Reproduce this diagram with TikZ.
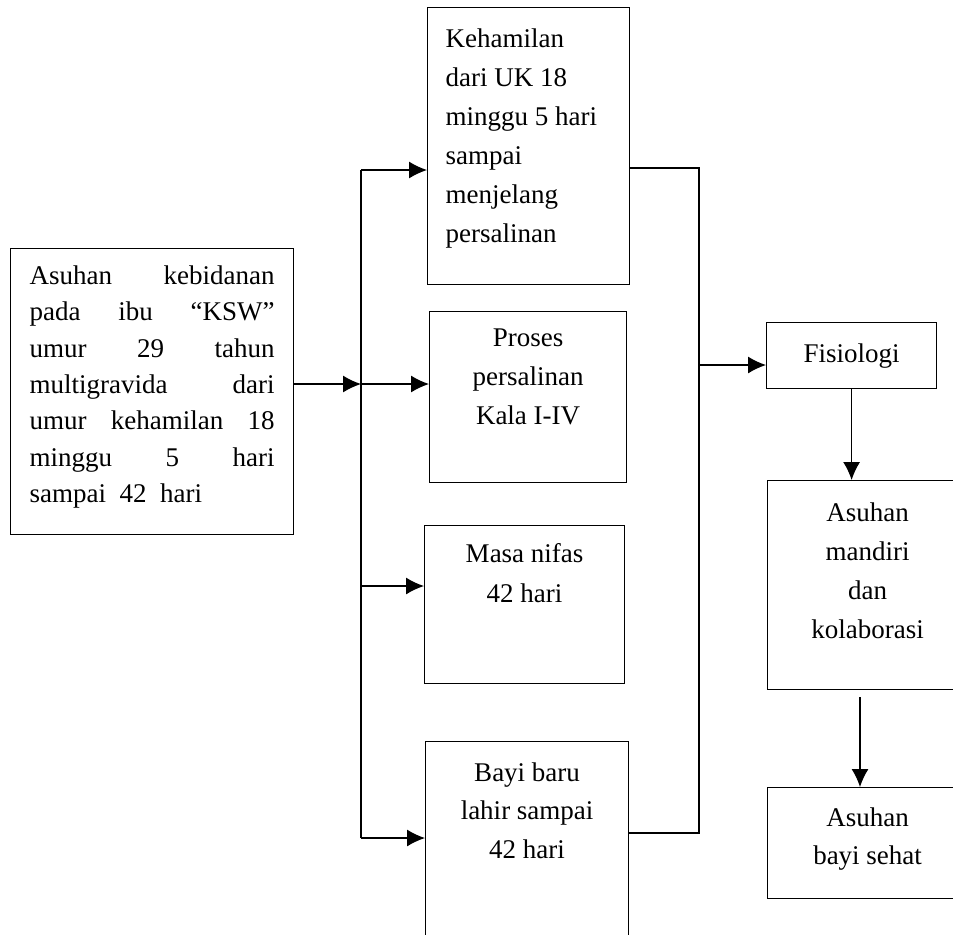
\documentclass[tikz,border=0pt]{standalone}
\usepackage{fontspec}
\setmainfont{Liberation Serif}
\usetikzlibrary{arrows.meta}
\tikzset{>={Latex[length=9pt,width=8.5pt]}}
\tikzset{
  kotak/.style={draw,inner sep=0pt,anchor=north west,
    font=\fontsize{13.5}{19.5}\selectfont}
}
\hbadness=10000

\begin{document}
\begin{tikzpicture}[x=0.5pt,y=-0.5pt,line width=0.6pt]
\useasboundingbox (0,0) rectangle (953,934);
% kotak-kotak
\node[kotak,inner xsep=9.5pt,inner ysep=8.5pt,font=\fontsize{13.5}{18.2}\selectfont] (asuhan) at (10,248)
  {\parbox[t][126pt][t]{122.5pt}{Asuhan kebidanan\linebreak pada ibu “KSW”\linebreak umur 29 tahun\linebreak
   multigravida dari\linebreak umur kehamilan 18\linebreak minggu 5 hari\linebreak sampai~ 42~ hari}};
\node[kotak,inner xsep=9pt,inner ysep=10.5pt] (hamil) at (427,7)
  {\parbox[t][117.5pt][t]{83pt}{\raggedright Kehamilan\\dari UK 18\\minggu 5 hari\\sampai\\menjelang\\persalinan}};
\node[kotak,inner ysep=8.5pt] (salin) at (429,311)
  {\parbox[t][68.5pt][t]{98.5pt}{\centering Proses\\persalinan\\Kala I-IV}};
\node[kotak,inner ysep=9pt,font=\fontsize{13.5}{20}\selectfont] (nifas) at (424,525)
  {\parbox[t][61pt][t]{100pt}{\centering Masa nifas\\42 hari}};
\node[kotak,inner ysep=10.5pt,font=\fontsize{13.5}{19.2}\selectfont] (bayi) at (425,741)
  {\parbox[t][79pt][t]{101.5pt}{\centering Bayi baru\\lahir sampai\\42 hari}};
\node[kotak,minimum width=85pt,minimum height=33pt] (fisiologi) at (766,322) {Fisiologi};
\node[kotak,inner ysep=11pt] (mandiri) at (767,480)
  {\parbox[t][82.5pt][t]{100pt}{\centering Asuhan\\mandiri\\dan\\kolaborasi}};
\node[kotak,inner ysep=10pt,font=\fontsize{13.5}{19}\selectfont] (sehat) at (767,787)
  {\parbox[t][35.5pt][t]{100pt}{\centering Asuhan\\bayi sehat}};

% percabangan kiri
\coordinate (cabang) at (361,384);
\coordinate (bus-atas) at (361,170);
\coordinate (bus-nifas) at (361,586);
\coordinate (bus-bawah) at (361,838);
\draw[->] (asuhan.east |- cabang) -- (cabang);
\draw (bus-atas) -- (bus-bawah);
\draw[->] (bus-atas) -- (bus-atas -| hamil.west);
\draw[->] (cabang) -- (cabang -| salin.west);
\draw[->] (bus-nifas) -- (bus-nifas -| nifas.west);
\draw[->] (bus-bawah) -- (bus-bawah -| bayi.west);

% penggabungan kanan
\coordinate (kanan-atas) at (699,168);
\coordinate (kanan-fis) at (699,365);
\coordinate (kanan-bawah) at (699,833);
\draw (hamil.east |- kanan-atas) -- (kanan-atas) -- (kanan-bawah) -- (bayi.east |- kanan-bawah);
\draw[->] (kanan-fis) -- (kanan-fis -| fisiologi.west);
\draw[->] (fisiologi.south) -- (fisiologi.south |- mandiri.north);
\coordinate (mandiri-bawah) at (860,697);
\draw[->] (mandiri-bawah) -- (mandiri-bawah |- sehat.north);
\end{tikzpicture}
\end{document}
